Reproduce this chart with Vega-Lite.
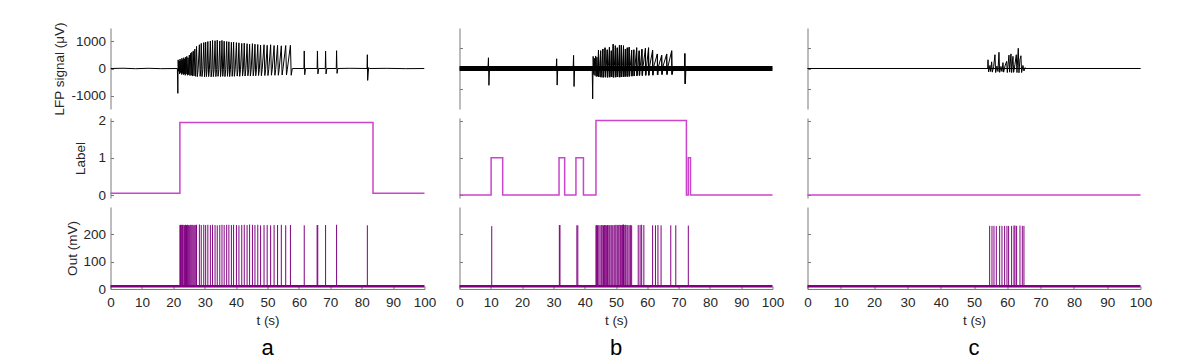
{
  "$schema": "https://vega.github.io/schema/vega-lite/v6.json",
  "background": "white",
  "padding": {"left": 52.5, "top": 21, "right": 5, "bottom": 0},
  "columns": 3,
  "spacing": {"row": 9, "column": 35},
  "bounds": "flush",
  "config": {
    "font": "Liberation Sans",
    "view": {"stroke": null},
    "axis": {"grid": false, "labelFont": "Liberation Sans", "labelFontSize": 13.5, "labelColor": "#262626", "titleFont": "Liberation Sans", "titleFontSize": 13.5, "titleFontWeight": "normal", "titleColor": "#262626", "domainColor": "#7a7a7a", "tickColor": "#7a7a7a", "tickSize": -3, "labelPadding": 8, "labelFlush": false, "labelOverlap": false, "labelExpr": "'' + datum.value"},
    "axisX": {"labelPadding": 9.5, "labelOverlap": false, "tickCount": 11},
    "title": {"font": "Liberation Sans", "fontSize": 22, "fontWeight": "normal", "color": "#000000"}
  },
  "datasets": {
    "lfp_a": [
      {"t":0,"v":0},{"t":4,"v":10},{"t":8,"v":-8},{"t":12,"v":8},{"t":16,"v":-6},{"t":21.3,"v":0},
      {"t":21.45,"v":-920},{"t":21.55,"v":320},{"t":21.7,"v":-100},{"t":21.85,"v":280},{"t":22.0,"v":-200},{"t":22.15,"v":350},{"t":22.3,"v":-150},{"t":22.45,"v":300},{"t":22.6,"v":-220},{"t":22.75,"v":380},{"t":22.9,"v":-180},{"t":23.05,"v":330},{"t":23.2,"v":-230},{"t":23.35,"v":400},{"t":23.5,"v":-200},{"t":23.65,"v":350},{"t":23.8,"v":-250},{"t":23.95,"v":420},{"t":24.1,"v":-200},{"t":24.3,"v":450},{"t":24.5,"v":-250},{"t":24.7,"v":400},{"t":24.9,"v":-230},{"t":25.1,"v":500},{"t":25.3,"v":-260},{"t":25.5,"v":560},{"t":25.7,"v":-250},{"t":25.9,"v":600},{"t":26.1,"v":-280},{"t":26.35,"v":650},{"t":26.6,"v":-270},{"t":26.85,"v":720},{"t":27.1,"v":-290},
      {"t":27.4,"v":820},{"t":27.65,"v":-300},{"t":27.9,"v":-40},
      {"t":28.3,"v":880},{"t":28.55,"v":-290},{"t":28.75,"v":-40},
      {"t":28.9,"v":930},{"t":29.15,"v":-300},{"t":29.4,"v":-40},
      {"t":29.7,"v":960},{"t":29.95,"v":-310},{"t":30.1,"v":-40},
      {"t":30.3,"v":980},{"t":30.55,"v":-300},{"t":30.75,"v":-40},
      {"t":31.0,"v":1000},{"t":31.25,"v":-300},{"t":31.5,"v":-40},
      {"t":31.8,"v":1020},{"t":32.05,"v":-310},{"t":32.3,"v":-40},
      {"t":32.5,"v":1040},{"t":32.75,"v":-300},{"t":33.0,"v":-40},
      {"t":33.3,"v":1030},{"t":33.55,"v":-300},{"t":33.8,"v":-40},
      {"t":34.0,"v":1050},{"t":34.25,"v":-290},{"t":34.5,"v":-40},
      {"t":34.8,"v":1020},{"t":35.05,"v":-300},{"t":35.25,"v":-40},
      {"t":35.5,"v":1040},{"t":35.75,"v":-290},{"t":35.95,"v":-40},
      {"t":36.2,"v":1010},{"t":36.45,"v":-300},{"t":36.7,"v":-40},
      {"t":37.0,"v":1000},{"t":37.25,"v":-290},{"t":37.45,"v":-40},
      {"t":37.7,"v":990},{"t":37.95,"v":-300},{"t":38.2,"v":-40},
      {"t":38.5,"v":970},{"t":38.75,"v":-290},{"t":38.95,"v":-40},
      {"t":39.2,"v":980},{"t":39.45,"v":-290},{"t":39.7,"v":-40},
      {"t":40.1,"v":960},{"t":40.35,"v":-280},{"t":40.6,"v":-40},
      {"t":40.9,"v":950},{"t":41.15,"v":-290},{"t":41.4,"v":-40},
      {"t":41.8,"v":930},{"t":42.05,"v":-280},{"t":42.3,"v":-40},
      {"t":42.6,"v":940},{"t":42.85,"v":-280},{"t":43.1,"v":-40},
      {"t":43.5,"v":920},{"t":43.75,"v":-270},{"t":44.0,"v":-40},
      {"t":44.3,"v":900},{"t":44.55,"v":-280},{"t":44.8,"v":-40},
      {"t":45.2,"v":920},{"t":45.45,"v":-270},{"t":45.7,"v":-40},
      {"t":46.0,"v":900},{"t":46.25,"v":-270},{"t":46.5,"v":-40},
      {"t":46.9,"v":890},{"t":47.15,"v":-260},{"t":47.4,"v":-40},
      {"t":47.8,"v":870},{"t":48.05,"v":-270},{"t":48.3,"v":-40},
      {"t":48.9,"v":880},{"t":49.15,"v":-260},{"t":49.4,"v":-40},
      {"t":49.9,"v":860},{"t":50.15,"v":-260},{"t":50.4,"v":-40},
      {"t":51.0,"v":880},{"t":51.25,"v":-250},{"t":51.5,"v":-40},
      {"t":52.1,"v":850},{"t":52.35,"v":-250},{"t":52.6,"v":-40},
      {"t":53.2,"v":860},{"t":53.45,"v":-250},{"t":53.7,"v":-40},
      {"t":54.4,"v":840},{"t":54.65,"v":-240},{"t":54.9,"v":-40},
      {"t":55.8,"v":850},{"t":56.05,"v":-240},{"t":56.3,"v":-40},
      {"t":57.3,"v":860},{"t":57.55,"v":-250},{"t":57.9,"v":0},
      {"t":61.6,"v":0},{"t":61.7,"v":650},{"t":61.85,"v":-230},{"t":62.1,"v":0},
      {"t":65.8,"v":0},{"t":65.9,"v":650},{"t":66.05,"v":-200},{"t":66.3,"v":0},
      {"t":68.4,"v":0},{"t":68.5,"v":640},{"t":68.65,"v":-200},{"t":68.9,"v":0},
      {"t":71.9,"v":0},{"t":72.0,"v":660},{"t":72.15,"v":-180},{"t":72.4,"v":0},
      {"t":76,"v":8},{"t":81.7,"v":0},{"t":81.8,"v":510},{"t":81.9,"v":-440},{"t":82.2,"v":30},{"t":82.6,"v":0},{"t":88,"v":6},{"t":94,"v":-6},{"t":100,"v":0}
    ],
    "lfp_b": [
      {"t":0,"v":0},{"t":9.1,"v":0},{"t":9.25,"v":530},{"t":9.4,"v":-830},{"t":9.6,"v":100},{"t":9.8,"v":0},
      {"t":30.9,"v":0},{"t":31.05,"v":480},{"t":31.2,"v":-820},{"t":31.4,"v":80},{"t":31.6,"v":0},
      {"t":36.3,"v":0},{"t":36.45,"v":650},{"t":36.6,"v":-890},{"t":36.8,"v":100},{"t":37.0,"v":0},
      {"t":42.4,"v":0},{"t":42.55,"v":-1500},{"t":42.7,"v":600},{"t":42.9,"v":-300},{"t":43.1,"v":500},{"t":43.3,"v":-350},{"t":43.5,"v":620},{"t":43.7,"v":-400},{"t":43.9,"v":560},{"t":44.1,"v":-380},
      {"t":44.4,"v":903},{"t":44.55,"v":-420},{"t":44.8,"v":150},
      {"t":45.1,"v":877},{"t":45.25,"v":-430},{"t":45.5,"v":150},
      {"t":45.8,"v":963},{"t":45.95,"v":-440},{"t":46.2,"v":150},
      {"t":46.5,"v":1026},{"t":46.65,"v":-430},{"t":46.9,"v":150},
      {"t":47.2,"v":926},{"t":47.35,"v":-440},{"t":47.6,"v":150},
      {"t":47.9,"v":1050},{"t":48.05,"v":-430},{"t":48.3,"v":150},
      {"t":48.5,"v":877},{"t":48.65,"v":-420},{"t":48.9,"v":150},
      {"t":49.1,"v":1200},{"t":49.25,"v":-440},{"t":49.5,"v":150},
      {"t":49.8,"v":1126},{"t":49.95,"v":-430},{"t":50.2,"v":150},
      {"t":50.4,"v":1026},{"t":50.55,"v":-420},{"t":50.8,"v":150},
      {"t":51.1,"v":1150},{"t":51.25,"v":-430},{"t":51.5,"v":150},
      {"t":51.7,"v":1150},{"t":51.85,"v":-420},{"t":52.1,"v":150},
      {"t":52.4,"v":1126},{"t":52.55,"v":-410},{"t":52.8,"v":150},
      {"t":53.0,"v":963},{"t":53.15,"v":-400},{"t":53.4,"v":150},
      {"t":53.6,"v":1026},{"t":53.75,"v":-400},{"t":54.0,"v":150},
      {"t":54.2,"v":1050},{"t":54.35,"v":-390},{"t":54.6,"v":150},
      {"t":55.0,"v":903},{"t":55.15,"v":-380},{"t":55.4,"v":150},
      {"t":55.7,"v":926},{"t":55.85,"v":-370},{"t":56.1,"v":150},
      {"t":56.6,"v":1026},{"t":56.75,"v":-360},{"t":57.0,"v":150},
      {"t":57.4,"v":877},{"t":57.55,"v":-350},{"t":57.8,"v":150},
      {"t":58.3,"v":951},{"t":58.45,"v":-350},{"t":58.7,"v":150},
      {"t":59.4,"v":1000},{"t":59.55,"v":-340},{"t":59.8,"v":150},
      {"t":60.4,"v":1026},{"t":60.55,"v":-340},{"t":60.8,"v":150},
      {"t":61.7,"v":903},{"t":61.85,"v":-330},{"t":62.1,"v":120},
      {"t":63.2,"v":718},{"t":63.35,"v":-320},{"t":63.6,"v":120},
      {"t":64.6,"v":655},{"t":64.75,"v":-300},{"t":65.0,"v":100},
      {"t":66.2,"v":718},{"t":66.35,"v":-300},{"t":66.6,"v":100},
      {"t":67.8,"v":877},{"t":67.95,"v":-300},{"t":68.3,"v":0},
      {"t":71.85,"v":0},{"t":72.0,"v":740},{"t":72.15,"v":-760},{"t":72.35,"v":80},{"t":72.6,"v":0},{"t":100,"v":0}
    ],
    "spk_b": [
      {"t":44.4,"lo":-420,"hi":903},{"t":45.1,"lo":-430,"hi":877},{"t":45.8,"lo":-440,"hi":963},{"t":46.5,"lo":-430,"hi":1026},{"t":47.2,"lo":-440,"hi":926},{"t":47.9,"lo":-430,"hi":1050},{"t":48.5,"lo":-420,"hi":877},{"t":49.1,"lo":-440,"hi":1200},{"t":49.8,"lo":-430,"hi":1126},{"t":50.4,"lo":-420,"hi":1026},{"t":51.1,"lo":-430,"hi":1150},{"t":51.7,"lo":-420,"hi":1150},{"t":52.4,"lo":-410,"hi":1126},{"t":53.0,"lo":-400,"hi":963},{"t":53.6,"lo":-400,"hi":1026},{"t":54.2,"lo":-390,"hi":1050},{"t":55.0,"lo":-380,"hi":903},{"t":55.7,"lo":-370,"hi":926},{"t":56.6,"lo":-360,"hi":1026},{"t":57.4,"lo":-350,"hi":877},{"t":58.3,"lo":-350,"hi":951},{"t":59.4,"lo":-340,"hi":1000},{"t":60.4,"lo":-340,"hi":1026},{"t":61.7,"lo":-330,"hi":903},{"t":63.2,"lo":-320,"hi":718},{"t":64.6,"lo":-300,"hi":655},{"t":66.2,"lo":-300,"hi":718},{"t":67.8,"lo":-300,"hi":877},{"t":72.0,"lo":-760,"hi":740}
    ],
    "band_b": [{"t":0,"lo":-120,"hi":120},{"t":100,"lo":-120,"hi":120}],
    "band_c": [{"t":0,"lo":-25,"hi":25},{"t":100,"lo":-25,"hi":25}],
    "lfp_c": [
      {"t":0,"v":0},{"t":54.1,"v":0},{"t":54.2,"v":430},{"t":54.4,"v":-170},{"t":54.8,"v":150},{"t":55.0,"v":-150},{"t":55.3,"v":330},{"t":55.5,"v":-180},{"t":55.9,"v":100},{"t":56.3,"v":680},{"t":56.5,"v":-200},{"t":56.9,"v":120},{"t":57.2,"v":-150},{"t":57.5,"v":800},{"t":57.7,"v":-190},{"t":58.1,"v":100},{"t":58.4,"v":-150},{"t":58.7,"v":290},{"t":58.9,"v":-180},{"t":59.3,"v":120},{"t":59.8,"v":350},{"t":60.0,"v":-200},{"t":60.5,"v":660},{"t":60.7,"v":-180},{"t":61.1,"v":720},{"t":61.3,"v":-200},{"t":61.7,"v":600},{"t":61.9,"v":-190},{"t":62.3,"v":200},{"t":62.7,"v":680},{"t":62.9,"v":-200},{"t":63.3,"v":1000},{"t":63.5,"v":-210},{"t":63.8,"v":450},{"t":64.1,"v":630},{"t":64.3,"v":-200},{"t":64.7,"v":150},{"t":65.0,"v":-120},{"t":65.3,"v":40},{"t":65.6,"v":0},{"t":100,"v":0}
    ],
    "label_a": [{"t":0,"v":0.05},{"t":22.1,"v":1.95},{"t":83.6,"v":0.05},{"t":100,"v":0.05}],
    "label_b": [{"t":0,"v":0},{"t":10.1,"v":1},{"t":13.8,"v":0},{"t":31.8,"v":1},{"t":33.6,"v":0},{"t":37.2,"v":1},{"t":39.6,"v":0},{"t":43.6,"v":2},{"t":72.5,"v":0},{"t":73.1,"v":1},{"t":73.8,"v":0},{"t":100,"v":0}],
    "label_c": [{"t":0,"v":0},{"t":100,"v":0}],
    "base": [{"t":0,"v":10},{"t":100,"v":10}],
    "out_a": [
      {"t":22.1,"v":234},{"t":22.3,"v":235},{"t":22.5,"v":233},{"t":22.7,"v":235},{"t":22.9,"v":234},{"t":23.1,"v":235},{"t":23.4,"v":234},{"t":23.6,"v":233},{"t":23.9,"v":235},{"t":24.2,"v":234},{"t":24.5,"v":235},{"t":24.8,"v":234},{"t":25.1,"v":233},{"t":25.4,"v":235},{"t":25.7,"v":234},{"t":26.0,"v":235},{"t":26.3,"v":234},{"t":26.6,"v":233},{"t":26.9,"v":235},{"t":27.2,"v":234},{"t":27.4,"v":235},
      {"t":28.3,"v":236},{"t":28.9,"v":234},{"t":29.7,"v":235},{"t":30.3,"v":234},{"t":31.0,"v":235},{"t":31.8,"v":234},{"t":32.5,"v":235},{"t":33.3,"v":234},{"t":34.0,"v":233},{"t":34.8,"v":234},{"t":35.5,"v":235},{"t":36.2,"v":234},{"t":37.0,"v":235},{"t":37.7,"v":235},{"t":38.5,"v":234},{"t":39.2,"v":235},{"t":40.1,"v":234},{"t":40.9,"v":233},{"t":41.8,"v":234},{"t":42.6,"v":235},{"t":43.5,"v":234},{"t":44.3,"v":236},{"t":45.2,"v":235},{"t":46.0,"v":234},{"t":46.9,"v":235},{"t":47.8,"v":233},{"t":48.9,"v":234},{"t":49.9,"v":234},{"t":51.0,"v":233},{"t":52.1,"v":234},{"t":53.2,"v":234},{"t":54.4,"v":235},{"t":55.8,"v":233},{"t":57.3,"v":234},
      {"t":61.7,"v":233},{"t":65.8,"v":234},{"t":66.0,"v":234},{"t":68.5,"v":234},{"t":72.0,"v":235},{"t":81.8,"v":233}
    ],
    "out_b": [
      {"t":10.3,"v":230},{"t":31.9,"v":234},{"t":32.1,"v":234},{"t":37.5,"v":233},{"t":37.8,"v":233},
      {"t":43.6,"v":233},{"t":43.8,"v":234},{"t":44.1,"v":233},{"t":44.5,"v":234},{"t":44.9,"v":233},{"t":45.3,"v":234},{"t":45.6,"v":234},{"t":46.0,"v":233},{"t":46.3,"v":234},{"t":46.6,"v":234},{"t":47.0,"v":233},{"t":47.3,"v":234},{"t":47.7,"v":234},{"t":48.0,"v":233},{"t":48.4,"v":234},{"t":48.7,"v":234},{"t":49.0,"v":233},{"t":49.4,"v":234},{"t":49.7,"v":234},{"t":50.0,"v":235},{"t":50.4,"v":234},{"t":50.7,"v":234},{"t":51.0,"v":235},{"t":51.4,"v":234},{"t":51.7,"v":234},{"t":52.1,"v":235},{"t":52.4,"v":236},{"t":52.8,"v":234},{"t":53.1,"v":235},{"t":53.5,"v":234},{"t":53.8,"v":234},{"t":54.2,"v":233},{"t":54.6,"v":234},{"t":55.0,"v":233},
      {"t":57.1,"v":234},{"t":57.7,"v":234},{"t":58.2,"v":235},{"t":58.9,"v":234},{"t":61.7,"v":233},{"t":62.6,"v":233},{"t":63.4,"v":234},{"t":64.4,"v":233},{"t":67.5,"v":233},{"t":69.1,"v":233},{"t":73.1,"v":232}
    ],
    "out_c": [
      {"t":54.7,"v":231},{"t":55.4,"v":231},{"t":56.0,"v":231},{"t":56.7,"v":230},{"t":57.7,"v":231},{"t":58.4,"v":231},{"t":59.2,"v":231},{"t":59.9,"v":231},{"t":60.4,"v":231},{"t":61.3,"v":231},{"t":62.0,"v":232},{"t":62.3,"v":232},{"t":62.8,"v":231},{"t":63.8,"v":232},{"t":64.5,"v":231},{"t":65.0,"v":231}
    ]
  },
  "concat": [
    {"width": 314, "height": 81, "data": {"name": "lfp_a"},
     "mark": {"type": "line", "color": "black", "strokeWidth": 1, "strokeJoin": "round", "clip": true},
     "encoding": {
       "x": {"field": "t", "type": "quantitative", "scale": {"domain": [0, 100]}, "axis": null},
       "y": {"field": "v", "type": "quantitative", "scale": {"domain": [-1500, 1500]}, "axis": {"values": [-1000, 0, 1000], "title": "LFP signal (μV)", "titlePadding": 4}}}},
    {"width": 313, "height": 81,
     "layer": [
       {"data": {"name": "band_b"}, "mark": {"type": "area", "color": "black", "opacity": 1},
        "encoding": {
          "x": {"field": "t", "type": "quantitative", "scale": {"domain": [0, 100]}, "axis": null},
          "y": {"field": "lo", "type": "quantitative", "scale": {"domain": [-1500, 1500]}, "axis": {"values": [-1000, 0, 1000], "labels": false, "title": null}},
          "y2": {"field": "hi"}}},
       {"data": {"name": "lfp_b"}, "mark": {"type": "line", "color": "black", "strokeWidth": 1, "strokeJoin": "round", "clip": true},
        "encoding": {"x": {"field": "t", "type": "quantitative"}, "y": {"field": "v", "type": "quantitative"}}},
       {"data": {"name": "spk_b"}, "mark": {"type": "rule", "color": "black", "strokeWidth": 1, "clip": true},
        "encoding": {"x": {"field": "t", "type": "quantitative"}, "y": {"field": "lo", "type": "quantitative"}, "y2": {"field": "hi"}}}
     ]},
    {"width": 333, "height": 81,
     "layer": [
       {"data": {"name": "band_c"}, "mark": {"type": "area", "color": "black", "opacity": 1},
        "encoding": {
          "x": {"field": "t", "type": "quantitative", "scale": {"domain": [0, 100]}, "axis": null},
          "y": {"field": "lo", "type": "quantitative", "scale": {"domain": [-1500, 1500]}, "axis": {"values": [-1000, 0, 1000], "labels": false, "title": null}},
          "y2": {"field": "hi"}}},
       {"data": {"name": "lfp_c"}, "mark": {"type": "line", "color": "black", "strokeWidth": 1, "strokeJoin": "round", "clip": true},
        "encoding": {"x": {"field": "t", "type": "quantitative"}, "y": {"field": "v", "type": "quantitative"}}}
     ]},
    {"width": 314, "height": 80, "data": {"name": "label_a"},
     "mark": {"type": "line", "color": "#cc44cc", "strokeWidth": 1.5, "interpolate": "step-after"},
     "encoding": {
       "x": {"field": "t", "type": "quantitative", "scale": {"domain": [0, 100]}, "axis": null},
       "y": {"field": "v", "type": "quantitative", "scale": {"domain": [-0.08, 2.07]}, "axis": {"values": [0, 1, 2], "title": "Label", "titlePadding": 10}}}},
    {"width": 313, "height": 80, "data": {"name": "label_b"},
     "mark": {"type": "line", "color": "#cc44cc", "strokeWidth": 1.5, "interpolate": "step-after"},
     "encoding": {
       "x": {"field": "t", "type": "quantitative", "scale": {"domain": [0, 100]}, "axis": null},
       "y": {"field": "v", "type": "quantitative", "scale": {"domain": [-0.08, 2.07]}, "axis": {"values": [0, 1, 2], "labels": false, "title": null}}}},
    {"width": 333, "height": 80, "data": {"name": "label_c"},
     "mark": {"type": "line", "color": "#cc44cc", "strokeWidth": 1.5, "interpolate": "step-after"},
     "encoding": {
       "x": {"field": "t", "type": "quantitative", "scale": {"domain": [0, 100]}, "axis": null},
       "y": {"field": "v", "type": "quantitative", "scale": {"domain": [-0.08, 2.07]}, "axis": {"values": [0, 1, 2], "labels": false, "title": null}}}},
    {"width": 314, "height": 82,
     "title": {"text": "a", "orient": "bottom", "offset": 11},
     "layer": [
       {"data": {"name": "out_a"}, "mark": {"type": "rule", "color": "#800080", "strokeWidth": 1},
        "encoding": {
          "x": {"field": "t", "type": "quantitative", "scale": {"domain": [0, 100]}, "axis": {"values": [0,10,20,30,40,50,60,70,80,90,100], "tickCount": 11, "labelOverlap": false, "title": "t (s)", "titlePadding": 4}},
          "y": {"field": "v", "type": "quantitative", "scale": {"domain": [0, 300]}, "axis": {"values": [0, 100, 200], "title": "Out (mV)", "titlePadding": 3}},
          "y2": {"datum": 10}}},
       {"data": {"name": "base"}, "mark": {"type": "line", "color": "#800080", "strokeWidth": 2.5},
        "encoding": {"x": {"field": "t", "type": "quantitative"}, "y": {"field": "v", "type": "quantitative"}}}
     ]},
    {"width": 313, "height": 82,
     "title": {"text": "b", "orient": "bottom", "offset": 11},
     "layer": [
       {"data": {"name": "out_b"}, "mark": {"type": "rule", "color": "#800080", "strokeWidth": 1},
        "encoding": {
          "x": {"field": "t", "type": "quantitative", "scale": {"domain": [0, 100]}, "axis": {"values": [0,10,20,30,40,50,60,70,80,90,100], "tickCount": 11, "labelOverlap": false, "title": "t (s)", "titlePadding": 4}},
          "y": {"field": "v", "type": "quantitative", "scale": {"domain": [0, 300]}, "axis": {"values": [0, 100, 200], "labels": false, "title": null}},
          "y2": {"datum": 10}}},
       {"data": {"name": "base"}, "mark": {"type": "line", "color": "#800080", "strokeWidth": 2.5},
        "encoding": {"x": {"field": "t", "type": "quantitative"}, "y": {"field": "v", "type": "quantitative"}}}
     ]},
    {"width": 333, "height": 82,
     "title": {"text": "c", "orient": "bottom", "offset": 11},
     "layer": [
       {"data": {"name": "out_c"}, "mark": {"type": "rule", "color": "#800080", "strokeWidth": 1},
        "encoding": {
          "x": {"field": "t", "type": "quantitative", "scale": {"domain": [0, 100]}, "axis": {"values": [0,10,20,30,40,50,60,70,80,90,100], "tickCount": 11, "labelOverlap": false, "title": "t (s)", "titlePadding": 4}},
          "y": {"field": "v", "type": "quantitative", "scale": {"domain": [0, 300]}, "axis": {"values": [0, 100, 200], "labels": false, "title": null}},
          "y2": {"datum": 10}}},
       {"data": {"name": "base"}, "mark": {"type": "line", "color": "#800080", "strokeWidth": 2.5},
        "encoding": {"x": {"field": "t", "type": "quantitative"}, "y": {"field": "v", "type": "quantitative"}}}
     ]}
  ]
}
